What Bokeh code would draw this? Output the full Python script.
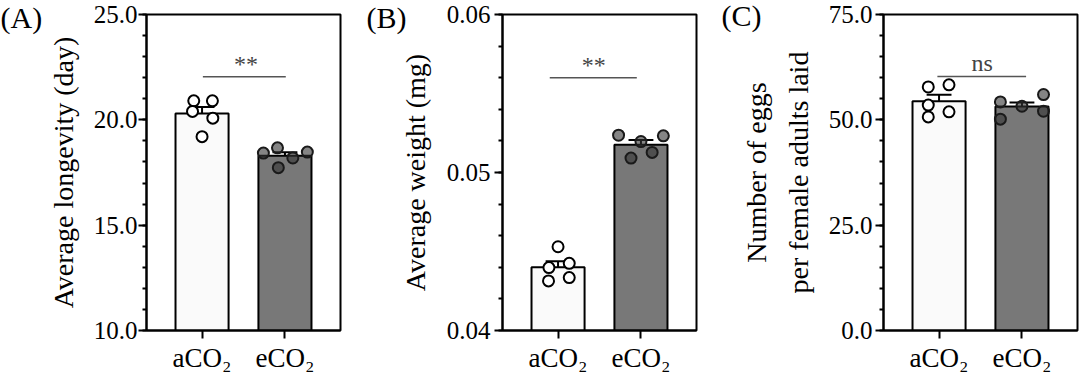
from bokeh.plotting import figure
from bokeh.layouts import row
from bokeh.models import FixedTicker, Label, Range1d
from bokeh.embed import file_html
from bokeh.resources import INLINE
import numpy as np

# ---------------- data ----------------
groups = ["aCO\u2082", "eCO\u2082"]

# (A) Average longevity (day)
longevity_aco2 = [20.9, 20.9, 20.4, 20.08, 19.2]
longevity_eco2 = [18.42, 18.67, 18.19, 18.47, 17.73]
longevity_ticks = [10, 15, 20, 25]
longevity_tick_labels = ["10.0", "15.0", "20.0", "25.0"]
longevity_sig = "**"

# (B) Average weight (mg)
weight_aco2 = [0.0453, 0.04398, 0.04425, 0.04314, 0.04335]
weight_eco2 = [0.05236, 0.05196, 0.05232, 0.05091, 0.05127]
weight_ticks = [0.04, 0.05, 0.06]
weight_tick_labels = ["0.04", "0.05", "0.06"]
weight_sig = "**"

# (C) Number of eggs per female adults laid
eggs_aco2 = [57.8, 58.3, 53.5, 50.7, 51.9]
eggs_eco2 = [54.25, 53.23, 56.0, 50.16, 52.05]
eggs_ticks = [0, 25, 50, 75]
eggs_tick_labels = ["0.0", "25.0", "50.0", "75.0"]
eggs_sig = "ns"

FONT = "Liberation Serif"
XR = (-0.67, 1.67)


def make_panel(letter, letter_dx, vals_a, vals_e, ticks, tick_labels, ylabel, sig,
               minor_step, sig_y, sig_x, sig_tx, sig_off,
               jit_a, jit_e, bl, br, bt, maj_standoff, lab_standoff):
    y0, y1 = ticks[0], ticks[-1]
    bb = 47
    h = 377
    w = 360
    p = figure(width=w, height=h, x_range=Range1d(*XR),
               y_range=Range1d(y0, y1), output_backend="svg",
               toolbar_location=None, min_border_left=bl, min_border_right=br,
               min_border_top=bt, min_border_bottom=bb)
    p.grid.visible = False
    p.outline_line_color = "black"
    p.outline_line_width = 2
    p.background_fill_color = "white"
    p.border_fill_color = "white"

    # panel letter as a title pulled to the top-left corner
    p.title.text = letter
    p.title.align = "left"
    p.title.vertical_align = "bottom"
    p.title.offset = -bl + letter_dx
    p.title.standoff = -2 * (25 + 6.5 - bt)
    p.title.text_font = FONT
    p.title.text_font_size = "30px"
    p.title.text_font_style = "normal"
    p.title.text_color = "black"

    xs = [0, 1]
    means = [float(np.mean(vals_a)), float(np.mean(vals_e))]
    sems = [float(np.std(v, ddof=1) / np.sqrt(len(v))) for v in (vals_a, vals_e)]
    tops = [m + s for m, s in zip(means, sems)]

    p.vbar(x=xs, top=means, bottom=y0, width=0.64,
           fill_color=["#fafafa", "#787878"], line_color="black", line_width=2)
    p.segment(x0=xs, y0=means, x1=xs, y1=tops, line_color="black", line_width=2)
    p.segment(x0=[x - 0.15 for x in xs], y0=tops, x1=[x + 0.15 for x in xs], y1=tops,
              line_color="black", line_width=2)

    p.scatter(x=[0 + j for j in jit_a], y=vals_a, size=11, fill_color="white",
              line_color="black", line_width=2)
    p.scatter(x=[1 + j for j in jit_e], y=vals_e, size=11, fill_color="#333333",
              fill_alpha=0.6, line_color="#1a1a1a", line_width=2)

    # significance
    p.segment(x0=[sig_x[0]], y0=[sig_y], x1=[sig_x[1]], y1=[sig_y],
              line_color="#555555", line_width=1.5)
    p.add_layout(Label(x=sig_tx, y=sig_y, text=sig, text_align="center",
                       text_baseline="bottom", y_offset=sig_off,
                       text_font=FONT, text_font_size="24px", text_color="#444444"))

    minors = [round(float(v), 6) for v in np.arange(y0, y1 + minor_step / 2, minor_step)]
    p.yaxis.ticker = FixedTicker(ticks=ticks, minor_ticks=minors)
    p.yaxis.major_label_overrides = {t: l for t, l in zip(ticks, tick_labels)}
    p.xaxis.ticker = FixedTicker(ticks=xs, minor_ticks=[])
    p.xaxis.major_label_overrides = {x: g for x, g in zip(xs, groups)}

    for ax in (p.xaxis, p.yaxis):
        ax.axis_line_width = 2
        ax.axis_line_color = "black"
        ax.major_tick_line_width = 2
        ax.minor_tick_line_width = 2
        ax.major_tick_in = 0
        ax.major_tick_out = 8
        ax.minor_tick_in = 0
        ax.minor_tick_out = 4
        ax.major_label_text_font = FONT
        ax.major_label_text_color = "black"
        ax.axis_label_text_font = FONT
        ax.axis_label_text_font_size = "28px"
        ax.axis_label_text_font_style = "normal"
        ax.axis_label_text_color = "black"
    p.xaxis.major_label_text_font_size = "27px"
    p.yaxis.major_label_text_font_size = "25px"
    p.xaxis.major_label_standoff = 4
    p.yaxis.major_label_standoff = maj_standoff
    p.yaxis.axis_label = ylabel
    p.yaxis.axis_label_standoff = lab_standoff
    p.yaxis.axis_label_text_line_height = 1.35
    return p


pa = make_panel("(A)", 0, longevity_aco2, longevity_eco2, longevity_ticks, longevity_tick_labels,
                "Average longevity (day)", longevity_sig, 1, 22.05, (0.01, 1.01), 0.53, 0,
                [-0.1, 0.125, -0.115, 0.13, 0.0], [-0.26, -0.09, 0.095, 0.27, -0.08],
                146, 20, 12, 1, 12)
pb = make_panel("(B)", 6, weight_aco2, weight_eco2, weight_ticks, weight_tick_labels,
                "Average weight (mg)", weight_sig, 0.002, 0.056, (-0.1, 0.95), 0.43, 0,
                [0.0, -0.11, 0.135, -0.115, 0.135], [-0.27, 0.0, 0.27, -0.12, 0.135],
                142, 24, 12, 4, 13)
pc = make_panel("(C)", 1, eggs_aco2, eggs_eco2, eggs_ticks, eggs_tick_labels,
                "Number of eggs\nper female adults laid", eggs_sig, 5, 60.3, (-0.02, 1.05), 0.52, 0,
                [-0.13, 0.12, -0.13, -0.13, 0.12], [-0.26, 0.0, 0.26, -0.26, 0.26],
                163, 3, 14, 3, 12)

layout = row(pa, pb, pc, spacing=0)
open("out.html", "w").write(file_html(layout, INLINE))
